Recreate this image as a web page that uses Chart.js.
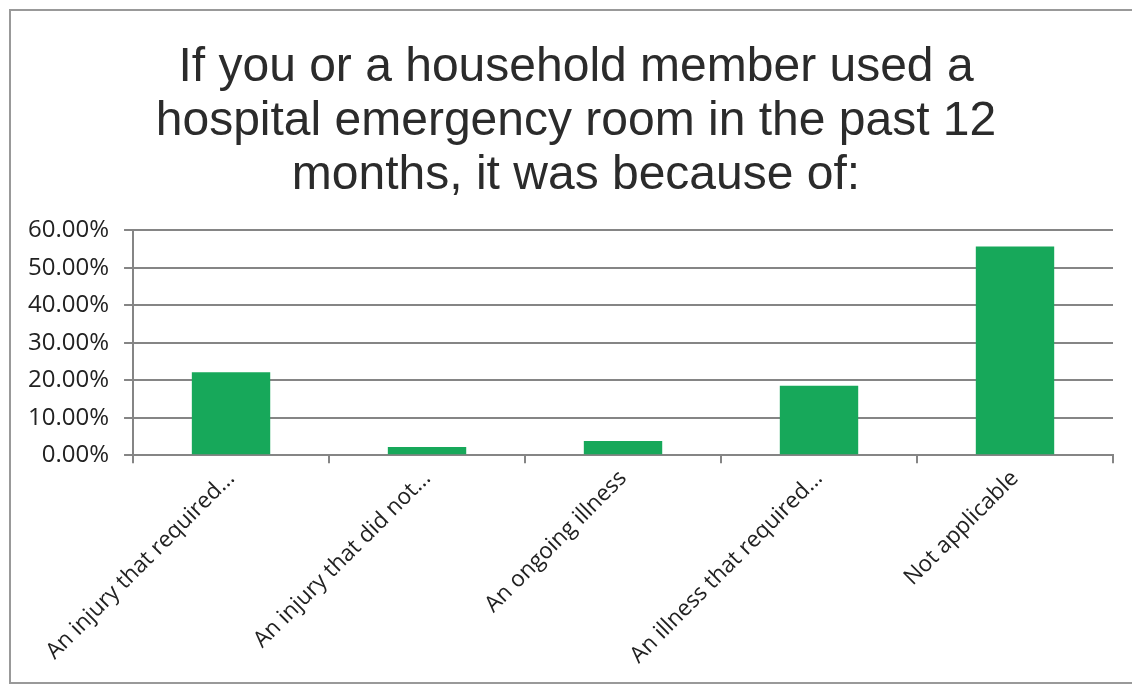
<!DOCTYPE html>
<html>
<head>
<meta charset="utf-8">
<script src="https://cdn.jsdelivr.net/npm/chart.js@4/dist/chart.umd.min.js"></script>
<style>
  body { margin: 0; background: #fff; }
  #wrap { position: relative; width: 1132px; height: 686px; overflow: hidden; }
  #frame { position: absolute; left: 9px; top: 9px; width: 1140px; height: 675px; border: 2px solid #999; box-sizing: border-box; }
  canvas { position: absolute; left: 0; top: 0; }
</style>
</head>
<body>
<div id="wrap">
  <div id="frame"></div>
  <canvas id="chart" width="1132" height="686"></canvas>
</div>
<script>
const categories = [
  'An injury that required...',
  'An injury that did not...',
  'An ongoing illness',
  'An illness that required...',
  'Not applicable'
];
const percentages = [22.1, 2.2, 3.8, 18.5, 55.7];
const titleLines = [
  'If you or a household member used a',
  'hospital emergency room in the past 12',
  'months, it was because of:'
];

const gridGray = '#858585';

// nudge the title a little right, the original is centred on the frame
const titleShift = {
  id: 'titleShift',
  afterLayout(chart) {
    if (chart.titleBlock) {
      chart.titleBlock.left += 13;
      chart.titleBlock.right += 13;
    }
  }
};

new Chart(document.getElementById('chart'), {
  type: 'bar',
  data: {
    labels: categories,
    datasets: [{
      data: percentages,
      backgroundColor: '#17a85a',
      borderWidth: 0,
      categoryPercentage: 1,
      barPercentage: 0.4
    }]
  },
  options: {
    responsive: false,
    animation: false,
    layout: { padding: { left: 13, right: 19, top: 0, bottom: 15 } },
    plugins: {
      legend: { display: false },
      tooltip: { enabled: false },
      title: {
        display: true,
        text: titleLines,
        color: '#2b2b2b',
        font: { family: 'Liberation Sans', size: 48, weight: 'normal', lineHeight: 1.12 },
        padding: { top: 41, bottom: 28 }
      }
    },
    scales: {
      y: {
        min: 0,
        max: 60,
        ticks: {
          stepSize: 10,
          color: '#222',
          padding: 15,
          font: { family: 'Open Sans', size: 24 },
          callback: v => v.toFixed(2) + '%'
        },
        grid: { color: gridGray, lineWidth: 2, tickLength: 9 },
        border: { color: gridGray, width: 2 }
      },
      x: {
        ticks: {
          color: '#222',
          maxRotation: 45,
          minRotation: 45,
          padding: 2,
          font: { family: 'Open Sans', size: 22.5 }
        },
        grid: { drawOnChartArea: false, color: gridGray, lineWidth: 2, tickLength: 8 },
        border: { color: gridGray, width: 2 }
      }
    }
  },
  plugins: [titleShift]
});
</script>
</body>
</html>
